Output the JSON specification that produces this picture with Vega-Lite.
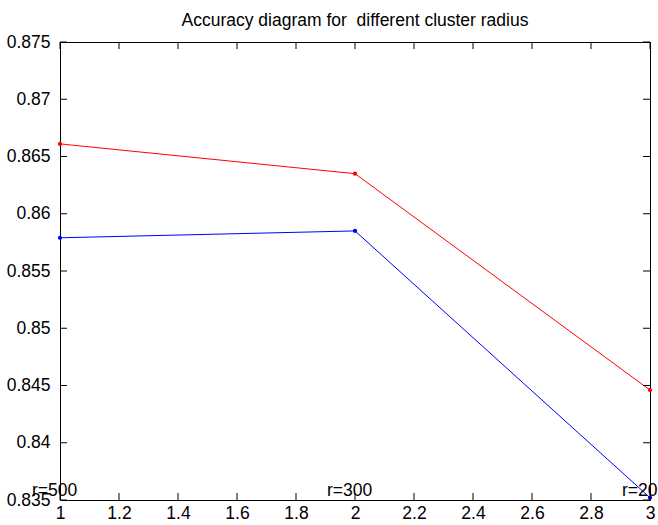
{
  "$schema": "https://vega.github.io/schema/vega-lite/v6.json",
  "autosize": "none",
  "width": 590,
  "height": 458,
  "padding": {"left": 60, "top": 42, "right": 8, "bottom": 25},
  "background": "white",
  "config": {
    "font": "Liberation Sans",
    "view": {"stroke": "black", "strokeWidth": 1},
    "axis": {"grid": false, "domain": false, "ticks": false, "labelColor": "black", "labelFont": "Liberation Sans", "labelFontSize": 17.5}
  },
  "title": {"text": "Accuracy diagram for \u00a0different cluster radius", "fontSize": 17.5, "fontWeight": "normal", "font": "Liberation Sans", "color": "black", "offset": 4, "anchor": "middle"},
  "datasets": {
    "acc": [
      {"x": 1, "y": 0.8661, "series": "red"},
      {"x": 2, "y": 0.8635, "series": "red"},
      {"x": 3, "y": 0.8446, "series": "red"},
      {"x": 1, "y": 0.8579, "series": "blue"},
      {"x": 2, "y": 0.8585, "series": "blue"},
      {"x": 3, "y": 0.8352, "series": "blue"}
    ],
    "labels": [
      {"x": 0.905, "y": 0.83535, "label": "r=500"},
      {"x": 1.905, "y": 0.83535, "label": "r=300"},
      {"x": 2.905, "y": 0.83535, "label": "r=200"}
    ],
    "xticks": [{"v": 1}, {"v": 1.2}, {"v": 1.4}, {"v": 1.6}, {"v": 1.8}, {"v": 2}, {"v": 2.2}, {"v": 2.4}, {"v": 2.6}, {"v": 2.8}, {"v": 3}],
    "yticks": [{"v": 0.835}, {"v": 0.84}, {"v": 0.845}, {"v": 0.85}, {"v": 0.855}, {"v": 0.86}, {"v": 0.865}, {"v": 0.87}, {"v": 0.875}]
  },
  "layer": [
    {
      "data": {"name": "acc"},
      "mark": {"type": "line", "strokeWidth": 1, "clip": false},
      "encoding": {
        "x": {"field": "x", "type": "quantitative", "scale": {"domain": [1, 3], "nice": false, "zero": false}, "axis": {"title": null, "values": [1, 1.2, 1.4, 1.6, 1.8, 2, 2.2, 2.4, 2.6, 2.8, 3], "format": "~g", "labelPadding": 4, "labelFlush": false}},
        "y": {"field": "y", "type": "quantitative", "scale": {"domain": [0.835, 0.875], "nice": false, "zero": false}, "axis": {"title": null, "values": [0.835, 0.84, 0.845, 0.85, 0.855, 0.86, 0.865, 0.87, 0.875], "format": "~g", "labelPadding": 10, "labelFlush": false}},
        "color": {"field": "series", "type": "nominal", "scale": {"domain": ["red", "blue"], "range": ["#ff0000", "#0000ff"]}, "legend": null}
      }
    },
    {
      "data": {"name": "acc"},
      "mark": {"type": "point", "filled": true, "size": 18, "opacity": 1, "clip": false},
      "encoding": {
        "x": {"field": "x", "type": "quantitative"},
        "y": {"field": "y", "type": "quantitative"},
        "color": {"field": "series", "type": "nominal", "legend": null}
      }
    },
    {
      "data": {"name": "labels"},
      "mark": {"type": "text", "align": "left", "baseline": "alphabetic", "fontSize": 17.5, "font": "Liberation Sans", "color": "black"},
      "encoding": {
        "x": {"field": "x", "type": "quantitative"},
        "y": {"field": "y", "type": "quantitative"},
        "text": {"field": "label", "type": "nominal"}
      }
    },
    {
      "data": {"name": "yticks"},
      "mark": {"type": "rule", "color": "black", "strokeWidth": 1, "x2Offset": 7},
      "encoding": {"y": {"field": "v", "type": "quantitative"}, "x": {"datum": 1}, "x2": {"datum": 1}}
    },
    {
      "data": {"name": "yticks"},
      "mark": {"type": "rule", "color": "black", "strokeWidth": 1, "x2Offset": -7},
      "encoding": {"y": {"field": "v", "type": "quantitative"}, "x": {"datum": 3}, "x2": {"datum": 3}}
    },
    {
      "data": {"name": "xticks"},
      "mark": {"type": "rule", "color": "black", "strokeWidth": 1, "y2Offset": -7},
      "encoding": {"x": {"field": "v", "type": "quantitative"}, "y": {"datum": 0.835}, "y2": {"datum": 0.835}}
    },
    {
      "data": {"name": "xticks"},
      "mark": {"type": "rule", "color": "black", "strokeWidth": 1, "y2Offset": 7},
      "encoding": {"x": {"field": "v", "type": "quantitative"}, "y": {"datum": 0.875}, "y2": {"datum": 0.875}}
    }
  ]
}
